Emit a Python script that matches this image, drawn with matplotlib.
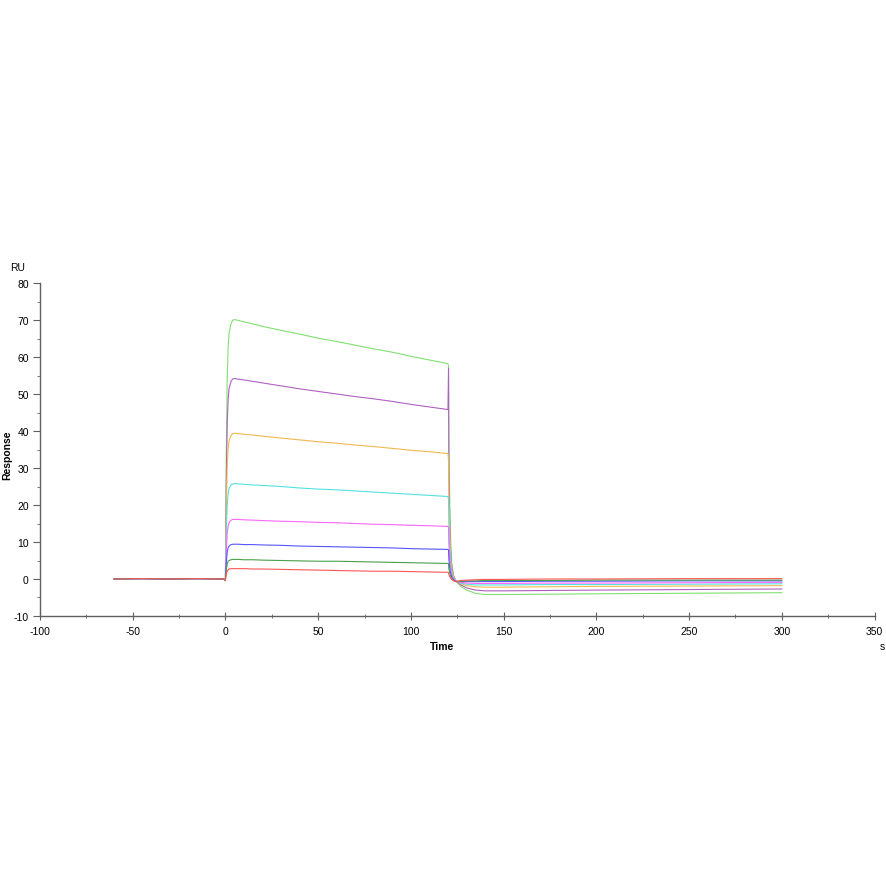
import matplotlib
matplotlib.use("Agg")
import matplotlib.pyplot as plt
from matplotlib.ticker import MultipleLocator

plt.rcParams['font.family'] = ['Liberation Sans', 'DejaVu Sans']
plt.rcParams['axes.unicode_minus'] = False

# time points (s)
time = [-60, -45, -30, -15, -1, 0,
        0.5, 1, 1.5, 2, 3, 4, 5,
        7, 10, 15, 20, 30, 40, 50, 60, 70, 80, 90, 100, 110, 120,
        120.3, 120.5, 121, 121.5, 122, 123, 124, 125, 127, 130, 135, 140, 150, 175, 200, 250, 300]

light_green = [0.0, 0.1, 0.0, 0.1, 0.0, -0.3,
               35.0, 54.7, 63.1, 66.6, 69.0, 70.0, 70.1,
               69.9, 69.5, 68.9, 68.3, 67.2, 66.2, 65.1, 64.2, 63.2, 62.2, 61.3, 60.2, 59.2, 58.2,
               57.5, 38.0, 20.0, 10.0, 4.5, 1.0, -0.3, -1.0, -2.0, -3.0, -3.9, -4.2, -4.2, -4.1, -4.0, -3.85, -3.7]
purple = [0.0, 0.1, 0.0, 0.1, 0.0, -0.3,
          27.1, 42.3, 48.8, 51.5, 53.4, 54.1, 54.2,
          54.0, 53.8, 53.4, 53.0, 52.2, 51.4, 50.7, 50.0, 49.3, 48.7, 48.0, 47.2, 46.5, 45.8,
          57.0, 28.0, 14.0, 7.0, 3.5, 0.8, -0.3, -0.8, -1.6, -2.4, -3.0, -3.2, -3.2, -3.1, -3.0, -2.85, -2.7]
orange = [0.0, 0.1, 0.0, 0.1, 0.0, -0.3,
          19.7, 30.7, 35.5, 37.4, 38.8, 39.3, 39.4,
          39.3, 39.1, 38.9, 38.6, 38.1, 37.6, 37.1, 36.7, 36.2, 35.8, 35.3, 34.8, 34.4, 33.9,
          32.0, 22.0, 12.0, 5.8, 2.7, 0.6, -0.3, -0.7, -1.3, -1.8, -2.1, -2.2, -2.2, -2.1, -2.0, -1.9, -1.8]
cyan = [0.0, 0.1, 0.0, 0.1, 0.0, -0.3,
        12.9, 20.1, 23.2, 24.5, 25.4, 25.7, 25.8,
        25.7, 25.6, 25.4, 25.3, 25.0, 24.6, 24.3, 24.1, 23.8, 23.5, 23.2, 22.9, 22.6, 22.3,
        21.5, 14.5, 7.8, 3.8, 1.8, 0.3, -0.4, -0.7, -1.1, -1.4, -1.6, -1.6, -1.6, -1.5, -1.5, -1.4, -1.3]
magenta = [0.0, 0.1, 0.0, 0.1, 0.0, -0.3,
           8.0, 12.6, 14.5, 15.3, 15.9, 16.1, 16.1,
           16.1, 16.0, 15.9, 15.8, 15.6, 15.5, 15.3, 15.2, 15.0, 14.8, 14.7, 14.5, 14.4, 14.2,
           13.8, 9.2, 5.0, 2.4, 1.1, 0.1, -0.5, -0.7, -0.9, -1.1, -1.2, -1.2, -1.2, -1.1, -1.1, -1.0, -0.9]
blue = [0.0, 0.1, 0.0, 0.1, 0.0, -0.3,
        4.7, 7.3, 8.5, 8.9, 9.3, 9.4, 9.4,
        9.4, 9.3, 9.3, 9.2, 9.1, 8.9, 8.8, 8.7, 8.6, 8.5, 8.4, 8.2, 8.1, 8.0,
        7.8, 5.2, 2.8, 1.4, 0.6, -0.2, -0.6, -0.7, -0.7, -0.7, -0.7, -0.7, -0.7, -0.6, -0.6, -0.5, -0.5]
dark_green = [0.0, 0.1, 0.0, 0.1, 0.0, -0.5,
              2.6, 4.1, 4.8, 5.0, 5.2, 5.3, 5.3,
              5.3, 5.2, 5.2, 5.1, 5.0, 4.9, 4.8, 4.8, 4.7, 4.6, 4.5, 4.4, 4.3, 4.2,
              4.1, 2.7, 1.5, 0.7, 0.2, -0.4, -0.7, -0.7, -0.6, -0.5, -0.5, -0.4, -0.4, -0.4, -0.3, -0.3, -0.3]
red = [0.0, 0.1, 0.0, 0.1, 0.0, -0.3,
       1.4, 2.2, 2.5, 2.7, 2.8, 2.8, 2.8,
       2.8, 2.8, 2.7, 2.7, 2.6, 2.5, 2.4, 2.3, 2.2, 2.1, 2.1, 2.0, 1.9, 1.8,
       1.7, 1.2, 0.6, 0.2, -0.1, -0.5, -0.7, -0.6, -0.4, -0.3, -0.2, -0.1, -0.1, 0.0, 0.0, 0.1, 0.1]

curves = [light_green, purple, orange, cyan, magenta, blue, dark_green, red]
colors = ['#80e070', '#b060c0', '#f0b850', '#55e0e0', '#ff66ff', '#5555ff', '#4a9f4a', '#ff5555']

fig = plt.figure(figsize=(8.87, 8.87), dpi=100)
ax = fig.add_axes([0.045, 0.3044, 0.941, 0.3754])

for vals, c in zip(curves, colors):
    ax.plot(time, vals, color=c, linewidth=0.8)

ax.set_xlim(-100, 350)
ax.set_ylim(-10, 80)
ax.xaxis.set_major_locator(MultipleLocator(50))
ax.xaxis.set_minor_locator(MultipleLocator(25))
ax.yaxis.set_major_locator(MultipleLocator(10))
ax.yaxis.set_minor_locator(MultipleLocator(5))

for s in ['top', 'right']:
    ax.spines[s].set_visible(False)
for s in ['left', 'bottom']:
    ax.spines[s].set_color('#606060')
    ax.spines[s].set_linewidth(1.0)

ax.tick_params(axis='x', which='major', direction='inout', length=6, color='#606060',
               labelsize=7.5, pad=4)
ax.tick_params(axis='x', which='minor', direction='inout', length=3, color='#606060')
ax.tick_params(axis='y', which='major', direction='out', length=5, color='#606060',
               labelsize=7.5, pad=3)
ax.tick_params(axis='y', which='minor', direction='out', length=2.5, color='#606060')

fig.text(18 / 887, 1 - 268 / 887, 'RU', fontsize=7.5, ha='center', va='center')
fig.text(7 / 887, 1 - 455 / 887, 'Response', fontsize=7.5, fontweight='bold',
         rotation=90, ha='center', va='center')
fig.text(442 / 887, 1 - 647 / 887, 'Time', fontsize=7.5, fontweight='bold',
         ha='center', va='center')
fig.text(882 / 887, 1 - 647 / 887, 's', fontsize=7.5, ha='center', va='center')

fig.savefig('out.png', dpi=100)
